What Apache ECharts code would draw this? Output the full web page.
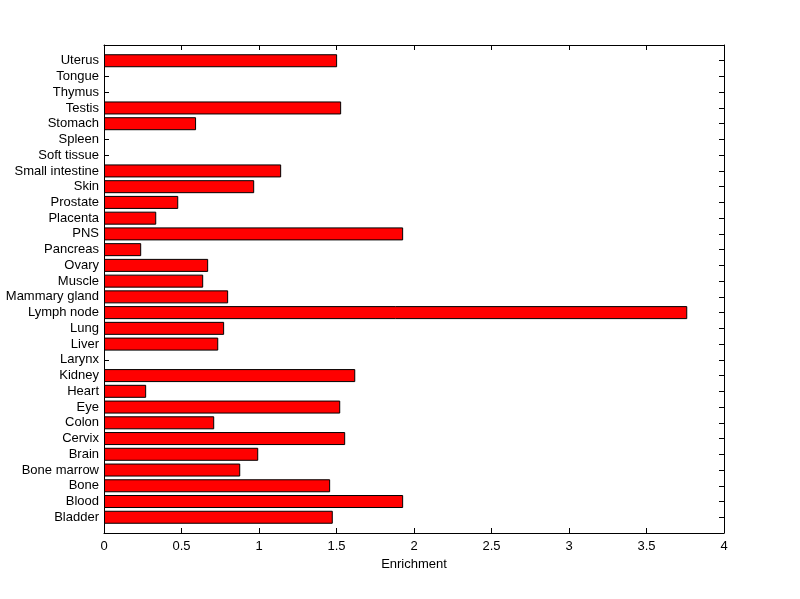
<!DOCTYPE html>
<html>
<head>
<meta charset="utf-8">
<script src="https://cdn.jsdelivr.net/npm/echarts@6/dist/echarts.min.js"></script>
<style>html,body{margin:0;padding:0;background:#fff}#c{width:800px;height:599px}</style>
</head>
<body>
<div id="c"></div>
<script>
const categories = ['Bladder','Blood','Bone','Bone marrow','Brain','Cervix','Colon','Eye','Heart','Kidney','Larynx','Liver','Lung','Lymph node','Mammary gland','Muscle','Ovary','Pancreas','PNS','Placenta','Prostate','Skin','Small intestine','Soft tissue','Spleen','Stomach','Testis','Thymus','Tongue','Uterus'];
const enrichment = [1.476,1.930,1.459,0.879,0.995,1.556,0.711,1.524,0.272,1.621,0,0.737,0.775,3.763,0.801,0.640,0.672,0.240,1.930,0.337,0.479,0.969,1.143,0,0,0.594,1.530,0,0,1.504];
const xTicks = [0,0.5,1,1.5,2,2.5,3,3.5,4];
const xLabel = 'Enrichment';

const cats = [''].concat(categories, ['']);
const vals = [null].concat(enrichment.map(v => v === 0 ? null : v), [null]);
const font = 'Liberation Sans';
const chart = echarts.init(document.getElementById('c'));
const axisLine = {show:true, onZero:false, lineStyle:{color:'#000', width:1}};
chart.setOption({
  animation:false,
  backgroundColor:'#fff',
  grid:{left:104, right:76, top:45, bottom:66, containLabel:false},
  xAxis:[{
    type:'value', min:xTicks[0], max:xTicks[xTicks.length-1], interval:0.5,
    name:xLabel, nameLocation:'middle', nameGap:23,
    nameTextStyle:{color:'#000', fontSize:13, fontFamily:font},
    axisLine:axisLine, axisTick:{show:true, inside:true, length:5, lineStyle:{color:'#000'}},
    axisLabel:{color:'#000', fontSize:13, fontFamily:font, margin:7, formatter:v=>String(v)},
    splitLine:{show:false}
  },{
    type:'value', position:'top', min:xTicks[0], max:xTicks[xTicks.length-1], interval:0.5,
    axisLine:axisLine, axisTick:{show:true, inside:true, length:5, lineStyle:{color:'#000'}},
    axisLabel:{show:false}, splitLine:{show:false}
  }],
  yAxis:[{
    type:'category', data:cats, boundaryGap:false,
    axisLine:axisLine, axisTick:{show:true, inside:true, length:5, interval:0, lineStyle:{color:'#000'}},
    axisLabel:{color:'#000', fontSize:13, fontFamily:font, margin:5, interval:0},
    splitLine:{show:false}
  },{
    type:'category', data:cats, boundaryGap:false, position:'right',
    axisLine:axisLine, axisTick:{show:true, inside:true, length:5, interval:0, lineStyle:{color:'#000'}},
    axisLabel:{show:false}, splitLine:{show:false}
  }],
  series:[{
    type:'bar', data:vals, barWidth:13, xAxisIndex:0, yAxisIndex:0,
    itemStyle:{color:'#ff0000', borderColor:'#000', borderWidth:1}
  }]
});
</script>
</body>
</html>
